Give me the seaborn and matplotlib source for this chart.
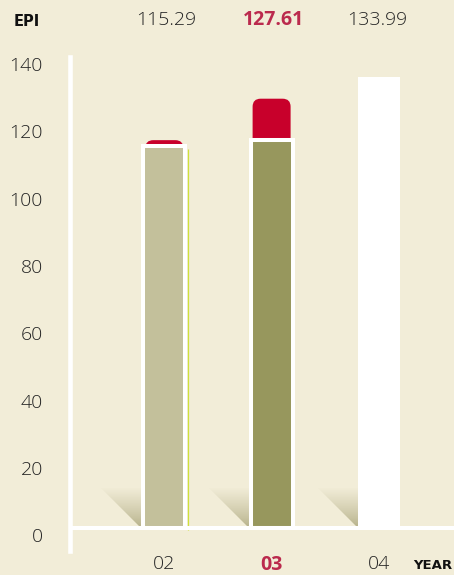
import numpy as np
import matplotlib
matplotlib.use("Agg")
import matplotlib.pyplot as plt
import matplotlib.transforms as mtransforms
from matplotlib.patches import FancyBboxPatch, Polygon
from matplotlib.colors import LinearSegmentedColormap
import seaborn as sns

# EPI by year; the framed part of bars 02/03 is the previous year's level,
# the red cap is the gain on top of it, 04 is the target bar.
years = ["02", "03", "04"]
epi = [115.29, 127.61, 133.99]
prior_epi = [113.6, 115.29]
y_ticks = [0, 20, 40, 60, 80, 100, 120, 140]
header_labels = ["115.29", "127.61", "133.99"]

BG = "#f2edd8"
RED = "#c8002b"
CRIMSON = "#bb2a4d"
TAN = "#c3c09b"
OLIVE = "#97975d"
TEXT = "#242424"
SHADE = "#b3ae86"

sns.set_theme(style="white")
plt.rcParams["font.family"] = ["Open Sans", "DejaVu Sans"]

W, H = 454, 575
fig = plt.figure(figsize=(W / 100, H / 100), dpi=100, facecolor=BG)
ax = fig.add_axes([70 / W, (H - 551) / H, (W - 70) / W, (551 - 57) / H])
ax.set_facecolor(BG)

PX_PER_CAT = 107.3
PX_PER_UNIT = 3.365
XLIM = (-0.879, 2.70)
YLIM = (-6.8, 140)

# red caps: full-height rounded bars, mostly hidden behind the framed bars
sns.barplot(x=years[:2], y=epi[:2], order=years, color=RED, width=38 / PX_PER_CAT,
            saturation=1, errorbar=None, ax=ax)
r = 8 / PX_PER_CAT
for p in list(ax.patches):
    x0, y0, w, h = p.get_x(), p.get_y(), p.get_width(), p.get_height()
    p.remove()
    ax.add_patch(FancyBboxPatch((x0, y0), w, h,
                                boxstyle=f"round,pad=0,rounding_size={r}",
                                mutation_aspect=(8 / PX_PER_UNIT) / r,
                                fc=RED, ec="none", zorder=2))

# framed bars with the previous year's level
n_before = len(ax.patches)
sns.barplot(x=years[:2], y=prior_epi, order=years, hue=years[:2],
            palette={"02": TAN, "03": OLIVE}, width=42 / PX_PER_CAT,
            edgecolor="white", linewidth=2.9, saturation=1, errorbar=None,
            legend=False, ax=ax)
frames = ax.patches[n_before:]
for p in frames:
    p.set_zorder(3)

# target bar
n_before = len(ax.patches)
sns.barplot(x=[years[2]], y=[epi[2]], order=years, color="white",
            width=42 / PX_PER_CAT, linewidth=0, saturation=1, errorbar=None, ax=ax)
target = ax.patches[n_before:]
for p in target:
    p.set_zorder(3)

# soft triangular shadows to the left of each bar
shade_cmap = LinearSegmentedColormap.from_list("shade", [SHADE, BG])
grad = np.linspace(0, 1, 128).reshape(-1, 1) ** 0.8
shade_h = 12.0
shade_w = 40 / PX_PER_CAT
lw_data = 2 / PX_PER_CAT
for p, outline in [(frames[0], True), (frames[1], True), (target[0], False)]:
    right = p.get_x() - (lw_data if outline else 0)
    left = right - shade_w
    im = ax.imshow(grad, cmap=shade_cmap, origin="lower", aspect="auto",
                   extent=[left, right, 0, shade_h], zorder=1.5, interpolation="bilinear")
    tri = Polygon([(left, shade_h), (right, shade_h), (right, 0)], closed=True,
                  transform=ax.transData, fc="none", ec="none")
    ax.add_patch(tri)
    im.set_clip_path(tri)

# thin misregistered outline on the right of bar 02
p = frames[0]
xr = p.get_x() + p.get_width() + 2.7 / PX_PER_CAT
ax.plot([xr, xr], [p.get_height() - 1.0, -0.6], color="#cfe03a", lw=0.9, zorder=2.5,
        solid_capstyle="butt")

# baseline
ax.axhline(0, color="white", lw=2.9, zorder=5)

ax.set_xlim(*XLIM)
ax.set_ylim(*YLIM)

for s in ["top", "right", "bottom"]:
    ax.spines[s].set_visible(False)
ax.spines["left"].set_color("white")
ax.spines["left"].set_linewidth(3.3)
ax.spines["left"].set_zorder(6)

ax.set_yticks(y_ticks)
ax.set_yticklabels([str(v) for v in y_ticks])
ax.tick_params(axis="y", length=10, width=1.5, color="white", direction="out",
               pad=9.5, labelsize=14, labelcolor=TEXT)
for lab in ax.get_yticklabels():
    lab.set_verticalalignment("top")
    lab.set_fontweight("light")
ax.yaxis.get_major_ticks()[0].tick1line.set_visible(False)

ax.set_xticks(range(len(years)))
ax.set_xticklabels(years)
ax.tick_params(axis="x", length=0, pad=3, labelsize=14, labelcolor=TEXT)
for i, lab in enumerate(ax.get_xticklabels()):
    if years[i] == "03":
        lab.set_color(CRIMSON)
        lab.set_fontweight("bold")
    else:
        lab.set_fontweight("light")
ax.set_xlabel("")
ax.set_ylabel("")

# header row with the EPI values
blend = mtransforms.blended_transform_factory(ax.transData, fig.transFigure)
for i, txt in enumerate(header_labels):
    bold = years[i] == "03"
    ax.text(i + (0.02 if i < 2 else -0.02), 1 - 20 / H, txt, transform=blend,
            ha="center", va="center", fontsize=14,
            color=CRIMSON if bold else TEXT,
            fontweight="bold" if bold else "light")

fig.text(14 / W, 1 - 21 / H, "EPI", ha="left", va="center", fontsize=10.5,
         fontweight="bold", color="#111111", family=["DejaVu Sans"])
fig.text(413 / W, 1 - 565.5 / H, "YEAR", ha="left", va="center", fontsize=9.5,
         fontweight="bold", color="#111111", family=["DejaVu Sans"])

fig.savefig("out.png", dpi=100, facecolor=BG)
